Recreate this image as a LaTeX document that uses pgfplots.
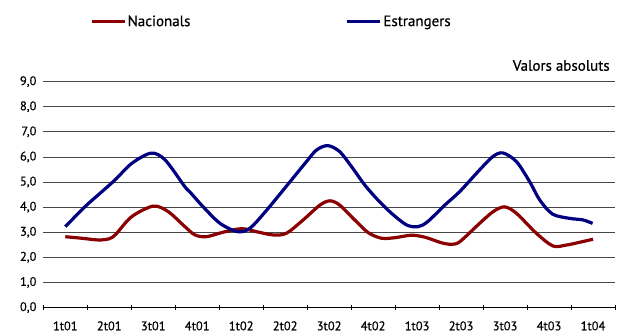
\documentclass[border=0pt]{standalone}
\usepackage{fontspec}
\setmainfont{PT Sans}[FakeBold=0.6]
\usepackage{pgfplots}
\pgfplotsset{compat=1.18}
\definecolor{nac}{HTML}{8B0000}
\definecolor{est}{HTML}{000080}
\begin{document}
\fontsize{12.5bp}{15bp}\selectfont
\begin{tikzpicture}
\useasboundingbox (0bp,0bp) rectangle (625bp,336bp);
\begin{axis}[
  at={(43.3bp,28.5bp)}, anchor=south west,
  scale only axis, width=571.7bp, height=225.9bp,
  xmin=-0.5, xmax=12.5, ymin=0, ymax=9,
  clip mode=individual,
  axis x line*=bottom, axis y line*=left,
  y axis line style={draw=none},
  x axis line style={black, line width=1bp},
  ytick={0,1,...,9},
  ytick style={draw=none},
  ymajorgrids,
  major grid style={line width=0.8bp, color=black!72},
  xtick={-0.5,0.5,...,12.5},
  x tick label as interval,
  xticklabels={1t01,2t01,3t01,4t01,1t02,2t02,3t02,4t02,1t03,2t03,3t03,4t03,1t04},
  xtick style={black, line width=0.8bp},
  x tick label style={yshift=-7bp},
  tick align=center, major tick length=5bp,
  y tick label style={/pgf/number format/.cd, fixed, fixed zerofill, precision=1, use comma, 1000 sep={}, assume math mode=true},
  tick label style={font=\fontsize{12.5bp}{15bp}\selectfont},
  legend columns=2,
  legend style={at={(0.0817,1.265)}, anchor=west, draw=none, fill=none, inner sep=0pt,
    font=\fontsize{15bp}{18bp}\selectfont,
    nodes={inner sep=1.5bp},
    /tikz/every even column/.append style={column sep=154bp}},
  legend cell align=left,
  legend image code/.code={\draw[#1, line width=3bp] (0bp,0bp) -- (33bp,0bp);},
]
\addplot[nac, line width=3.2bp, smooth] coordinates {
(0,2.82) (0.37,2.76) (0.75,2.69) (1.0,2.74) (1.15,2.92) (1.51,3.62) (2.0,4.04) (2.34,3.82)
(2.72,3.22) (2.95,2.89) (3.21,2.82) (3.59,3.00) (4.01,3.14) (4.35,3.02) (4.73,2.89)
(5.03,2.96) (5.41,3.49) (5.79,4.08) (6.02,4.25) (6.24,4.08) (6.58,3.49) (6.89,2.98)
(7.19,2.76) (7.49,2.78) (7.87,2.88) (8.18,2.80) (8.55,2.58) (8.78,2.52) (8.97,2.62)
(9.42,3.35) (9.73,3.82) (9.99,4.01) (10.26,3.75) (10.71,2.96) (11.09,2.45) (11.40,2.49)
(11.70,2.60) (12.0,2.72)
};
\addlegendentry{Nacionals}
\addplot[est, line width=3.2bp, smooth] coordinates {
(0,3.22) (0.45,4.02) (0.79,4.55) (1.13,5.08) (1.51,5.74) (1.95,6.15) (2.27,5.88)
(2.72,4.81) (2.83,4.61) (3.13,4.02) (3.52,3.35) (3.92,3.02) (4.20,3.16) (4.58,3.88)
(5.11,5.01) (5.45,5.74) (5.71,6.27) (5.97,6.45) (6.24,6.21) (6.51,5.61) (6.81,4.88)
(7.11,4.28) (7.42,3.75) (7.76,3.29) (8.02,3.22) (8.24,3.42) (8.63,4.08) (8.97,4.62)
(9.42,5.48) (9.72,6.01) (9.95,6.16) (10.26,5.81) (10.56,5.01) (10.79,4.28) (11.08,3.72)
(11.47,3.55) (11.77,3.49) (11.99,3.35)
};
\addlegendentry{Estrangers}
\node[anchor=base east, inner sep=0pt, font=\fontsize{15bp}{18bp}\selectfont] at (rel axis cs:0.991,1) [yshift=10.9bp] {Valors absoluts};
\end{axis}
\end{tikzpicture}
\end{document}
